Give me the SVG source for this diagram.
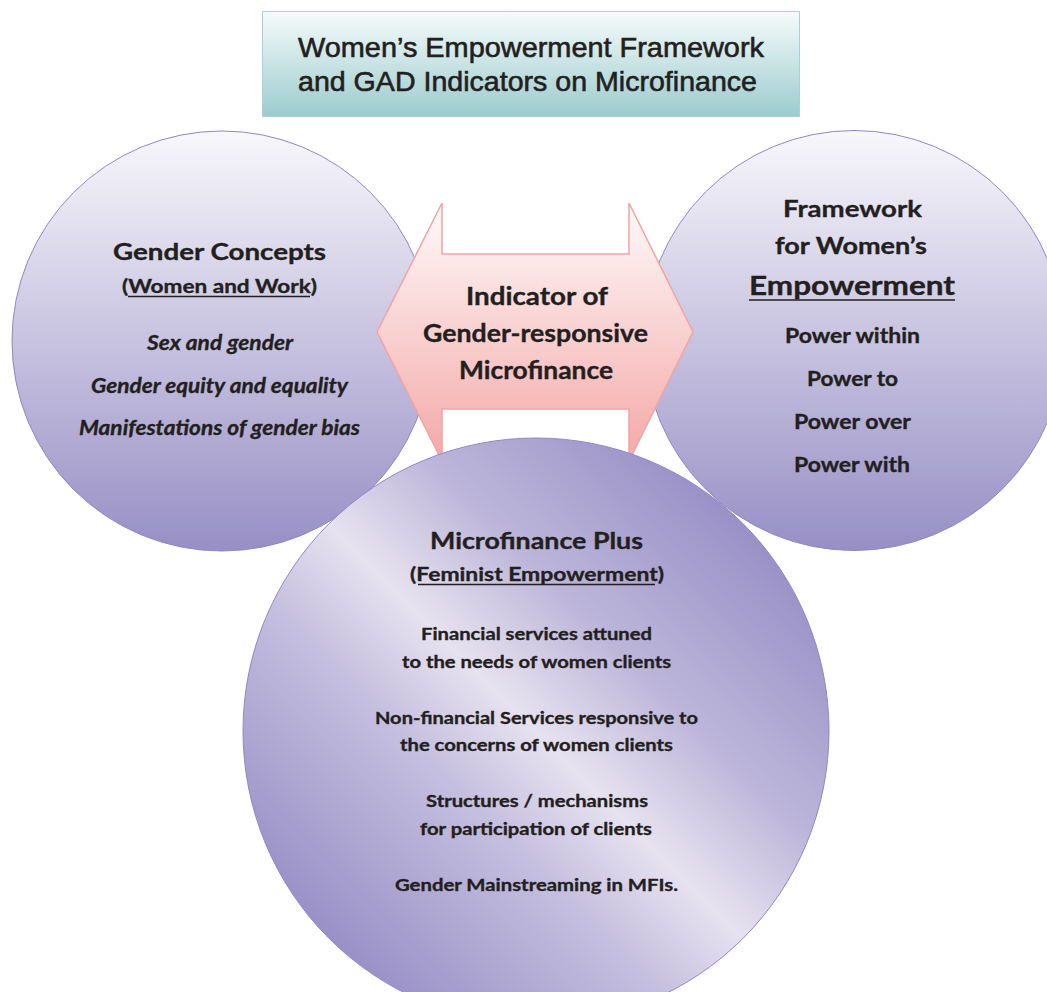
<svg xmlns="http://www.w3.org/2000/svg" width="1047" height="992" viewBox="0 0 1047 992">
<defs>
  <linearGradient id="gCircle" x1="0" y1="0" x2="0" y2="1">
    <stop offset="0" stop-color="#f8f7fb"/>
    <stop offset="1" stop-color="#978fc5"/>
  </linearGradient>
  <linearGradient id="gBottom" x1="1" y1="0" x2="0" y2="1">
    <stop offset="0.15" stop-color="#9a92c7"/>
    <stop offset="0.36" stop-color="#bdb6da"/>
    <stop offset="0.5" stop-color="#e7e2ef"/>
    <stop offset="0.62" stop-color="#c4bedf"/>
    <stop offset="0.85" stop-color="#9a92c7"/>
  </linearGradient>
  <linearGradient id="gArrow" x1="0" y1="0" x2="0" y2="1">
    <stop offset="0" stop-color="#fefafa"/>
    <stop offset="1" stop-color="#f4a8a8"/>
  </linearGradient>
  <linearGradient id="gTitle" x1="0" y1="0" x2="0" y2="1">
    <stop offset="0" stop-color="#f6fbfb"/>
    <stop offset="1" stop-color="#9ccbce"/>
  </linearGradient>
</defs>
<style>
  .circ { stroke: #8f88c4; stroke-width: 1; }
  .t { font-family: Lato, "Noto Sans", "DejaVu Sans", sans-serif; font-weight: 700; fill: #231f20; stroke: #231f20; stroke-width: 0.35; }
  .it { font-style: italic; }
  .ttl { font-family: "Liberation Sans", Arial, sans-serif; font-size: 28px; fill: #231f20; stroke: #231f20; stroke-width: 0.6; }
  .ul { stroke: #231f20; stroke-width: 1.5; }
</style>
<rect width="1047" height="992" fill="#ffffff"/>

<g id="gender-concepts">
  <circle class="circ" cx="222" cy="341" r="210" fill="url(#gCircle)"/>
  <text class="t" x="113" y="260" font-size="23" textLength="213" lengthAdjust="spacingAndGlyphs">Gender Concepts</text>
  <text class="t" x="122" y="293" font-size="19" textLength="195" lengthAdjust="spacingAndGlyphs">(Women and Work)</text>
  <line class="ul" x1="128" y1="296.5" x2="310" y2="296.5"/>
  <text class="t it" x="147" y="350" font-size="20" textLength="146" lengthAdjust="spacingAndGlyphs">Sex and gender</text>
  <text class="t it" x="91" y="393" font-size="20" textLength="257" lengthAdjust="spacingAndGlyphs">Gender equity and equality</text>
  <text class="t it" x="79" y="435" font-size="20" textLength="281" lengthAdjust="spacingAndGlyphs">Manifestations of gender bias</text>
</g>

<g id="framework">
  <circle class="circ" cx="854" cy="340.5" r="210" fill="url(#gCircle)"/>
  <text class="t" x="783" y="217" font-size="23" textLength="139" lengthAdjust="spacingAndGlyphs">Framework</text>
  <text class="t" x="775" y="254" font-size="23" textLength="152" lengthAdjust="spacingAndGlyphs">for Women’s</text>
  <text class="t" x="749" y="295" font-size="26" textLength="206" lengthAdjust="spacingAndGlyphs">Empowerment</text>
  <line class="ul" x1="749" y1="300" x2="955" y2="300"/>
  <text class="t" x="785" y="343" font-size="20" textLength="135" lengthAdjust="spacingAndGlyphs">Power within</text>
  <text class="t" x="807" y="386" font-size="20" textLength="91" lengthAdjust="spacingAndGlyphs">Power to</text>
  <text class="t" x="794" y="429" font-size="20" textLength="117" lengthAdjust="spacingAndGlyphs">Power over</text>
  <text class="t" x="794" y="472" font-size="20" textLength="116" lengthAdjust="spacingAndGlyphs">Power with</text>
</g>

<g id="indicator">
  <path d="M442,203 L442,254 L629,254 L629,203 L693,332 L629,461 L629,409 L442,409 L442,461 L377,332 Z" fill="url(#gArrow)" stroke="#f2a2a4" stroke-width="1.5" stroke-linejoin="miter"/>
  <text class="t" x="466" y="305" font-size="24" textLength="142" lengthAdjust="spacingAndGlyphs">Indicator of</text>
  <text class="t" x="423" y="342" font-size="24" textLength="225" lengthAdjust="spacingAndGlyphs">Gender-responsive</text>
  <text class="t" x="459" y="379" font-size="24" textLength="154" lengthAdjust="spacingAndGlyphs">Microfinance</text>
</g>

<g id="microfinance-plus">
  <circle class="circ" cx="536" cy="731" r="293" fill="url(#gBottom)"/>
  <text class="t" x="430" y="549" font-size="23" textLength="213" lengthAdjust="spacingAndGlyphs">Microfinance Plus</text>
  <text class="t" x="410" y="581" font-size="19" textLength="254" lengthAdjust="spacingAndGlyphs">(Feminist Empowerment)</text>
  <line class="ul" x1="418" y1="584.5" x2="655" y2="584.5"/>
  <text class="t" x="421" y="640" font-size="17" textLength="231" lengthAdjust="spacingAndGlyphs">Financial services attuned</text>
  <text class="t" x="402" y="668" font-size="17" textLength="269" lengthAdjust="spacingAndGlyphs">to the needs of women clients</text>
  <text class="t" x="375" y="724" font-size="17" textLength="323" lengthAdjust="spacingAndGlyphs">Non-financial Services responsive to</text>
  <text class="t" x="400" y="751" font-size="17" textLength="273" lengthAdjust="spacingAndGlyphs">the concerns of women clients</text>
  <text class="t" x="426" y="807" font-size="17" textLength="222" lengthAdjust="spacingAndGlyphs">Structures / mechanisms</text>
  <text class="t" x="420" y="835" font-size="17" textLength="232" lengthAdjust="spacingAndGlyphs">for participation of clients</text>
  <text class="t" x="395" y="891" font-size="17" textLength="283" lengthAdjust="spacingAndGlyphs">Gender Mainstreaming in MFIs.</text>
</g>

<g id="title">
  <rect x="262.5" y="11.5" width="537" height="105" fill="url(#gTitle)" stroke="#a6d2d5" stroke-width="1"/>
  <text class="ttl" x="298" y="57" textLength="466" lengthAdjust="spacingAndGlyphs">Women’s Empowerment Framework</text>
  <text class="ttl" x="298" y="91" textLength="459" lengthAdjust="spacingAndGlyphs">and GAD Indicators on Microfinance</text>
</g>

<g id="connectors"></g>
</svg>
